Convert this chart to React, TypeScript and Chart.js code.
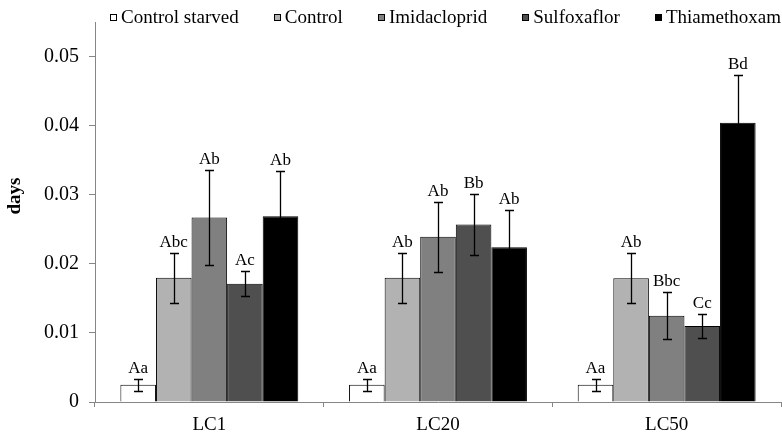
import React, { useEffect, useRef } from 'react';
import { Chart, registerables } from 'chart.js';

Chart.register(...registerables);

const categories = ['LC1', 'LC20', 'LC50'];
const seriesNames = ['Control starved', 'Control', 'Imidacloprid', 'Sulfoxaflor', 'Thiamethoxam'];

const controlStarved = [0.0025, 0.0025, 0.0025];
const controlStarvedErr = [0.0009, 0.0009, 0.0009];
const controlStarvedLetters = ['Aa', 'Aa', 'Aa'];

const control = [0.018, 0.018, 0.0179];
const controlErr = [0.0036, 0.0036, 0.0036];
const controlLetters = ['Abc', 'Ab', 'Ab'];

const imidacloprid = [0.0267, 0.0239, 0.0125];
const imidaclopridErr = [0.0069, 0.0051, 0.0034];
const imidaclopridLetters = ['Ab', 'Ab', 'Bbc'];

const sulfoxaflor = [0.0171, 0.0257, 0.011];
const sulfoxaflorErr = [0.0018, 0.0044, 0.0017];
const sulfoxaflorLetters = ['Ac', 'Bb', 'Cc'];

const thiamethoxam = [0.0269, 0.0224, 0.0404];
const thiamethoxamErr = [0.0066, 0.0054, 0.007];
const thiamethoxamLetters = ['Ab', 'Ab', 'Bd'];

const yTicks = [0, 0.01, 0.02, 0.03, 0.04, 0.05];
const yMax = 0.055;
const yTitle = 'days';

const colors = ['#ffffff', '#b2b2b2', '#808080', '#4f4f4f', '#000000'];
const values = [controlStarved, control, imidacloprid, sulfoxaflor, thiamethoxam];
const errors = [controlStarvedErr, controlErr, imidaclopridErr, sulfoxaflorErr, thiamethoxamErr];
const letters = [controlStarvedLetters, controlLetters, imidaclopridLetters, sulfoxaflorLetters, thiamethoxamLetters];

const SERIF = '"Liberation Serif", "Times New Roman", serif';
const AXIS_COLOR = '#868686';

const overlayPlugin = {
  id: 'overlay',
  afterDatasetsDraw(chart: any) {
    const ctx = chart.ctx;
    const yScale = chart.scales.y;
    ctx.save();
    ctx.strokeStyle = '#000';
    ctx.lineWidth = 1.3;
    ctx.fillStyle = '#000';
    ctx.font = `17px ${SERIF}`;
    ctx.textAlign = 'center';
    ctx.textBaseline = 'alphabetic';
    values.forEach((series, i) => {
      const meta = chart.getDatasetMeta(i);
      series.forEach((v, j) => {
        const bar = meta.data[j];
        const x = Math.round(bar.x) + 0.5;
        const e = errors[i][j];
        const yTop = Math.round(yScale.getPixelForValue(v + e)) + 0.5;
        const yBot = Math.round(yScale.getPixelForValue(v - e)) + 0.5;
        const cap = 4.5;
        ctx.beginPath();
        ctx.moveTo(x, yTop);
        ctx.lineTo(x, yBot);
        ctx.moveTo(x - cap, yTop);
        ctx.lineTo(x + cap, yTop);
        ctx.moveTo(x - cap, yBot);
        ctx.lineTo(x + cap, yBot);
        ctx.stroke();
        ctx.fillText(letters[i][j], bar.x, yTop - 7);
      });
    });
    ctx.restore();
  },
  afterDraw(chart: any) {
    const ctx = chart.ctx;
    ctx.save();
    // legend
    ctx.font = `19px ${SERIF}`;
    ctx.textBaseline = 'middle';
    ctx.textAlign = 'left';
    const box = 7;
    const textGap = 4;
    const startX = 110;
    const widths = seriesNames.map((n) => ctx.measureText(n).width);
    const used = widths.reduce((a, w) => a + box + textGap + w, 0);
    const itemGap = (chart.chartArea.right - startX - used) / (seriesNames.length - 1);
    let x = startX;
    const cy = 17;
    seriesNames.forEach((name, i) => {
      const bx = Math.round(x);
      const by = Math.round(cy - box / 2);
      ctx.fillStyle = colors[i];
      ctx.fillRect(bx, by, box, box);
      ctx.strokeStyle = '#000';
      ctx.lineWidth = 1;
      ctx.strokeRect(bx + 0.5, by + 0.5, box - 1, box - 1);
      ctx.fillStyle = '#000';
      ctx.fillText(name, x + box + textGap, cy + 1);
      x += box + textGap + widths[i] + itemGap;
    });
    // y title
    ctx.font = `bold 19px ${SERIF}`;
    ctx.translate(15.5, 196);
    ctx.rotate(-Math.PI / 2);
    ctx.textAlign = 'center';
    ctx.textBaseline = 'middle';
    ctx.fillText(yTitle, 0, 0);
    ctx.restore();
  },
};

export default function App() {
  const canvasRef = useRef<HTMLCanvasElement>(null);

  useEffect(() => {
    document.body.style.margin = '0';
    const canvas = canvasRef.current;
    if (!canvas) return;
    const chart = new Chart(canvas, {
      type: 'bar',
      data: {
        labels: categories,
        datasets: seriesNames.map((name, i) => ({
          label: name,
          data: values[i],
          backgroundColor: colors[i],
          borderColor: '#000',
          borderWidth: 1,
          barPercentage: 1,
          categoryPercentage: 0.778,
        })),
      },
      options: {
        responsive: true,
        maintainAspectRatio: false,
        animation: false,
        devicePixelRatio: 1,
        layout: { padding: { top: 18, right: 1, left: 0, bottom: 0 } },
        plugins: {
          legend: { display: false },
          tooltip: { enabled: false },
          title: { display: false },
        },
        scales: {
          x: {
            grid: {
              display: true,
              drawOnChartArea: false,
              drawTicks: true,
              tickLength: 5,
              color: AXIS_COLOR,
              offset: true,
            },
            border: { color: AXIS_COLOR, width: 1 },
            ticks: {
              color: '#000',
              font: { family: SERIF, size: 19 },
              padding: 7,
            },
            afterFit: (scale: any) => {
              scale.height = 34;
            },
          },
          y: {
            min: 0,
            max: yMax,
            grid: {
              display: true,
              drawOnChartArea: false,
              drawTicks: true,
              tickLength: 6,
              color: AXIS_COLOR,
            },
            border: { color: AXIS_COLOR, width: 1 },
            afterBuildTicks: (scale: any) => {
              scale.ticks = yTicks.map((v) => ({ value: v }));
            },
            ticks: {
              color: '#000',
              font: { family: SERIF, size: 20 },
              padding: 10,
              callback: (v: any) => (Number(v) === 0 ? '0' : Number(v).toFixed(2)),
            },
            afterFit: (scale: any) => {
              scale.width = 95;
            },
          },
        },
      },
      plugins: [overlayPlugin],
    });
    return () => chart.destroy();
  }, []);

  return (
    <div style={{ width: 782, height: 436, position: 'relative' }}>
      <canvas ref={canvasRef} />
    </div>
  );
}
